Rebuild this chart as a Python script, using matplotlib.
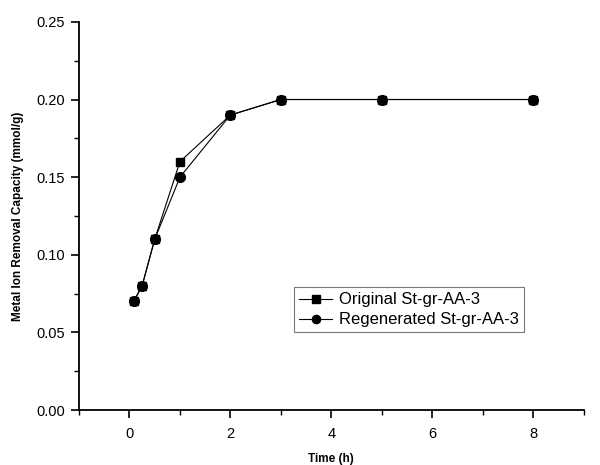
import matplotlib
matplotlib.use("Agg")
import matplotlib.pyplot as plt
from matplotlib.ticker import MultipleLocator, FormatStrFormatter

plt.rcParams['font.family'] = ['Liberation Sans', 'DejaVu Sans']

time_h = [0.083, 0.25, 0.5, 1, 2, 3, 5, 8]
original = [0.07, 0.08, 0.11, 0.16, 0.19, 0.20, 0.20, 0.20]
regenerated = [0.07, 0.08, 0.11, 0.15, 0.19, 0.20, 0.20, 0.20]
labels = ["Original St-gr-AA-3", "Regenerated St-gr-AA-3"]

fig = plt.figure(figsize=(6, 4.65), dpi=100)
ax = fig.add_axes([0.1317, 0.118, 0.841, 0.835])

ax.plot(time_h, original, color='black', lw=0.8, marker='s', markersize=6.2, label=labels[0])
ax.plot(time_h, regenerated, color='black', lw=0.8, marker='o', markersize=7, label=labels[1])

ax.set_xlim(-1, 9)
ax.set_ylim(0, 0.25)
ax.xaxis.set_major_locator(MultipleLocator(2))
ax.xaxis.set_minor_locator(MultipleLocator(1))
ax.yaxis.set_major_locator(MultipleLocator(0.05))
ax.yaxis.set_minor_locator(MultipleLocator(0.025))
ax.yaxis.set_major_formatter(FormatStrFormatter('%.2f'))

for s in ['top', 'right']:
    ax.spines[s].set_visible(False)
for s in ['left', 'bottom']:
    ax.spines[s].set_linewidth(1.3)

ax.tick_params(which='major', direction='out', length=6, width=1.2, labelsize=10.5, pad=4)
ax.tick_params(axis='x', which='major', pad=6)
ax.tick_params(which='minor', direction='out', length=3.5, width=1.0)

ax.set_xlabel('Time (h)', fontsize=8.5, fontweight='bold', labelpad=9)
ax.set_ylabel('Metal Ion Removal Capacity (mmol/g)', fontsize=8.5, fontweight='bold', labelpad=9)

leg = ax.legend(loc='lower left', bbox_to_anchor=(0.426, 0.2), fontsize=12,
                frameon=True, fancybox=False, edgecolor='#555555', handlelength=2.0,
                borderpad=0.3, labelspacing=0.3, handletextpad=0.4, borderaxespad=0,
                markerscale=0.85)
leg.get_frame().set_linewidth(0.8)

fig.savefig('out.png', dpi=100)
